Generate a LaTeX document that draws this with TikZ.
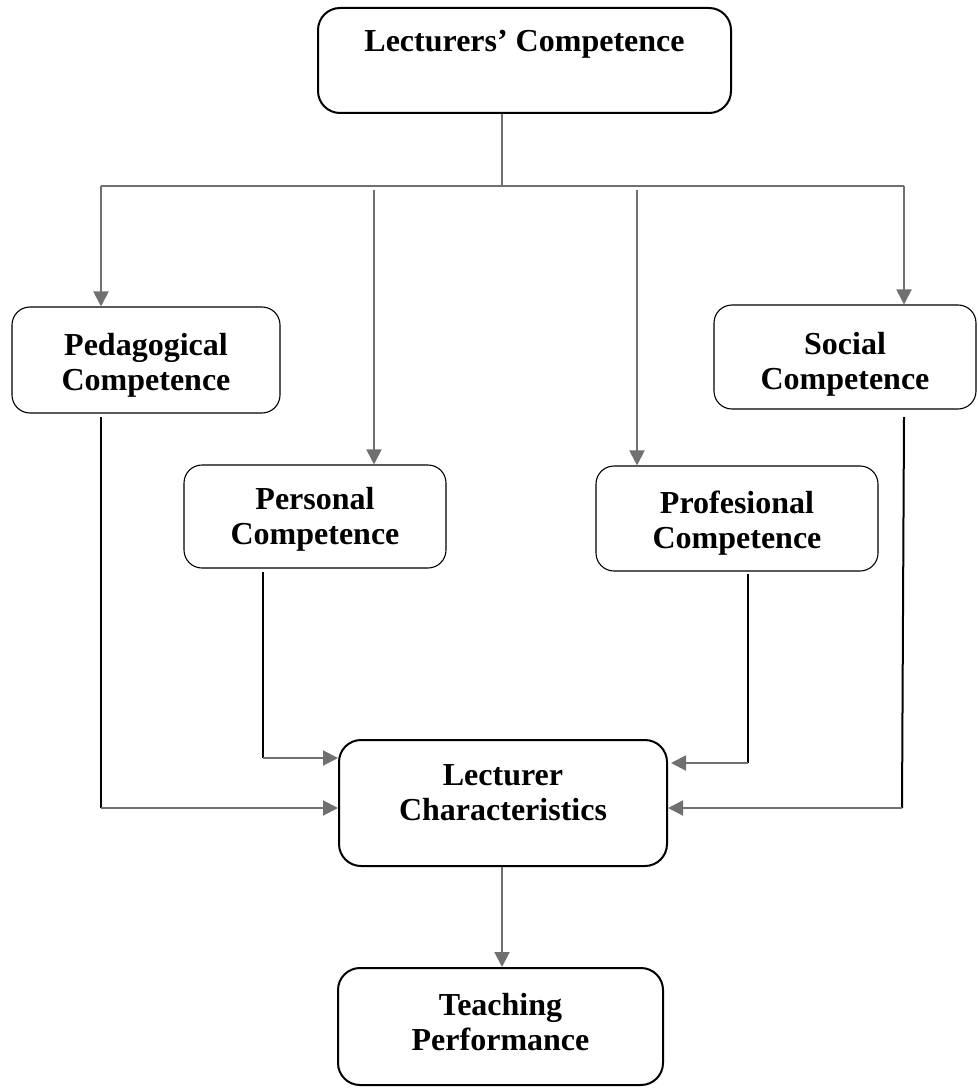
\documentclass[tikz,border=0pt]{standalone}
\usepackage{fontspec}
\setmainfont{Liberation Serif}
\usetikzlibrary{arrows.meta}
\definecolor{lg}{RGB}{112,112,112}
\begin{document}
\begin{tikzpicture}[x=1pt,y=-1pt,
  box/.style={draw,rounded corners=18pt,line width=1.1pt,inner sep=0pt},
  bigbox/.style={box,line width=2pt,rounded corners=22pt},
  lbl/.style={font=\fontsize{32}{35}\selectfont\bfseries,align=center,inner sep=0pt},
  conn/.style={draw=lg,line width=2pt},
  arr/.style={conn,-{Triangle[length=15pt,width=15pt]}},
  stem/.style={draw=black,line width=2pt}]
\useasboundingbox (0,0) rectangle (977,1091);

% boxes
\node[bigbox,minimum width=413pt,minimum height=105pt] (top) at (524.5,60.5) {};
\node[box,minimum width=268pt,minimum height=106pt] (ped) at (146,360) {};
\node[box,minimum width=262pt,minimum height=104pt] (soc) at (845,357) {};
\node[box,minimum width=262pt,minimum height=103pt] (per) at (315,516.5) {};
\node[box,minimum width=282pt,minimum height=105pt] (pro) at (737,518.5) {};
\node[bigbox,minimum width=328pt,minimum height=126pt] (lc) at (503,803) {};
\node[bigbox,minimum width=325pt,minimum height=117pt] (tp) at (500.5,1026.5) {};

% labels
\node[lbl] (ttop) at (524.5,44) {Lecturers' Competence};
\node[lbl] (tped) at (146,365) {Pedagogical\\Competence};
\node[lbl] (tsoc) at (845,364) {Social\\Competence};
\node[lbl] (tper) at (315,519) {Personal\\Competence};
\node[lbl] (tpro) at (737,523) {Profesional\\Competence};
\node[lbl] (tlc) at (503,793) {Lecturer\\Characteristics};
\node[lbl] (ttp) at (500.5,1022) {Teaching\\Performance};

% top distribution
\coordinate (j) at (502,186);
\coordinate (hl) at (101,186);
\coordinate (hr) at (904,186);
\coordinate (pl) at (374,190);
\coordinate (pr) at (637,190);
\draw[conn,line width=1.5pt] (j |- top.south) -- (j);
\draw[conn] (hl) -- (hr);
\draw[arr] (hl) -- (hl |- ped.north);
\draw[arr] (hr) -- (hr |- soc.north);
\draw[arr] (pl) -- (pl |- per.north);
\draw[arr] (pr) -- (pr |- pro.north);

% into lecturer characteristics
\coordinate (s1) at (101,417); \coordinate (e1) at (101,808);
\coordinate (s2) at (263,572); \coordinate (e2) at (263,758);
\coordinate (s3) at (748,574); \coordinate (e3) at (748,763);
\coordinate (s4) at (904,417); \coordinate (e4) at (902,808);
\draw[stem] (s1) -- (e1);
\draw[arr] (e1) -- (e1 -| lc.west);
\draw[stem] (s2) -- (e2);
\draw[arr] (e2) -- (e2 -| lc.west);
\draw[stem] (s3) -- (e3);
\draw[arr] (e3) -- ([xshift=3pt]e3 -| lc.east);
\draw[stem] (s4) -- (e4);
\draw[arr] (e4) -- (e4 -| lc.east);

% to teaching performance
\draw[arr] (j |- lc.south) -- (j |- tp.north);
\end{tikzpicture}
\end{document}
